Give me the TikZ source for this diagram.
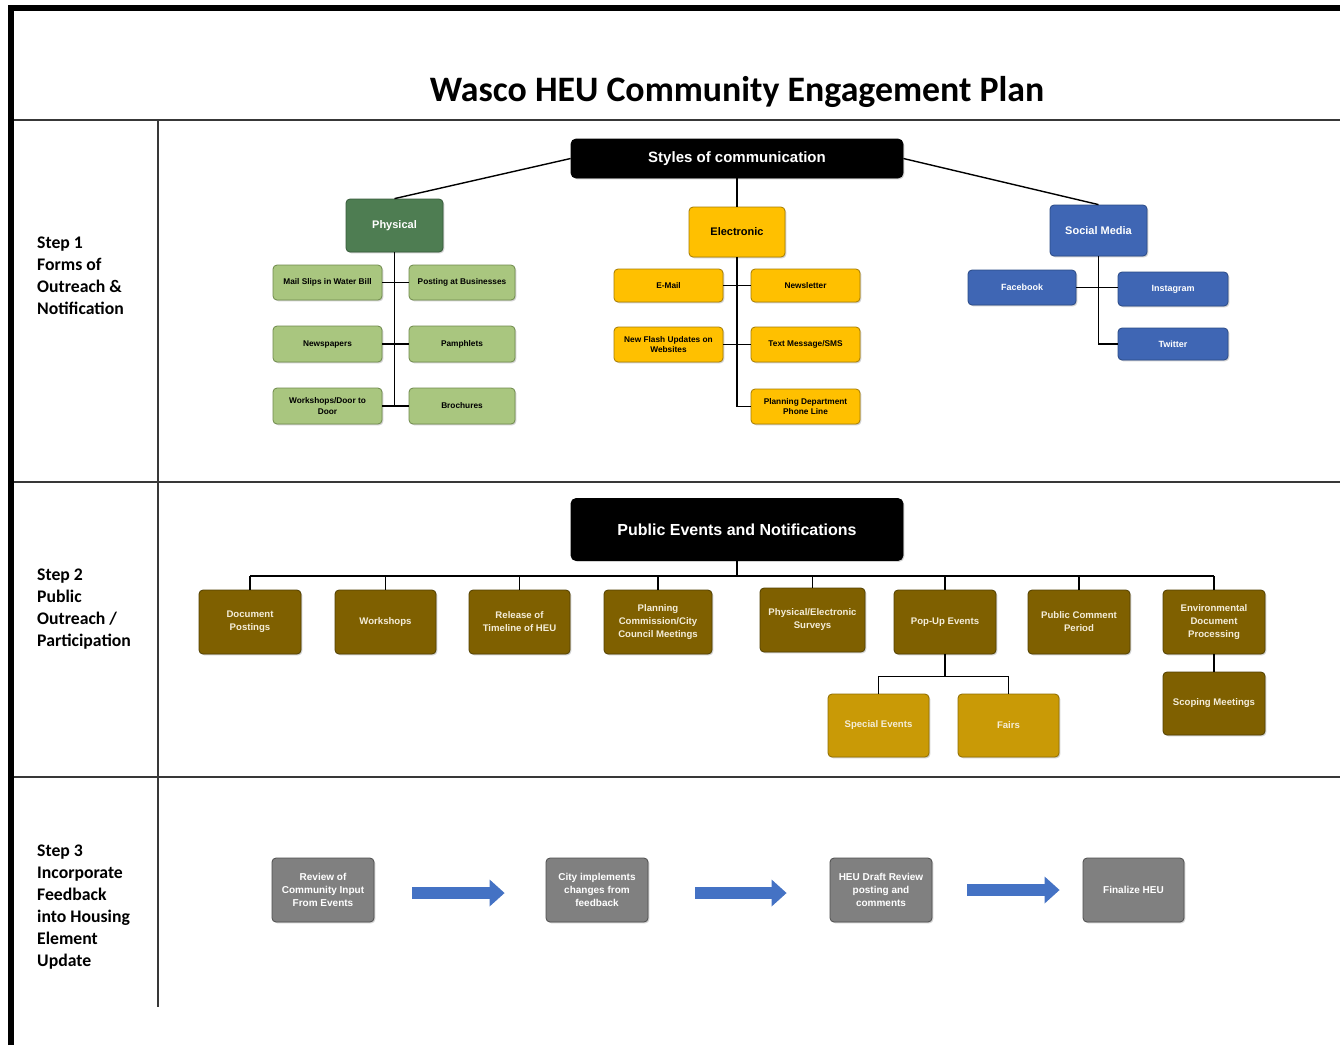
\documentclass[tikz,border=0pt]{standalone}
\usepackage{fontspec}
\setmainfont{Liberation Sans}
\newfontfamily\calib{Carlito}
\usetikzlibrary{arrows.meta,calc,shadows}

\definecolor{physgreen}{HTML}{4E7D52}
\definecolor{physedge}{HTML}{365A3A}
\definecolor{leafgreen}{HTML}{A9C67F}
\definecolor{leafgedge}{HTML}{6F8A4C}
\definecolor{elecyellow}{HTML}{FFC000}
\definecolor{elecedge}{HTML}{A67C00}
\definecolor{socblue}{HTML}{3F66B4}
\definecolor{socedge}{HTML}{2A4A86}
\definecolor{olive}{HTML}{7F6000}
\definecolor{oliveedge}{HTML}{524000}
\definecolor{gold}{HTML}{C99A06}
\definecolor{goldedge}{HTML}{8F6D00}
\definecolor{stepgray}{HTML}{808080}
\definecolor{grayedge}{HTML}{4F4F4F}
\definecolor{arrowblue}{HTML}{4472C4}
\definecolor{cream}{HTML}{F4EDD9}
\definecolor{rule}{HTML}{383838}

\tikzset{
  box/.style={rounded corners=4pt, align=center, inner sep=1pt, line width=0.8pt,
    drop shadow={shadow xshift=1.3pt, shadow yshift=-1.3pt, opacity=0.35}},
  hdr/.style={box, rounded corners=5pt, fill=black, draw=black, text=white,
    font=\bfseries\fontsize{15}{18}\selectfont},
  physbox/.style={box, fill=physgreen, draw=physedge, text=white,
    font=\bfseries\fontsize{11}{13}\selectfont},
  leafg/.style={box, fill=leafgreen, draw=leafgedge, text=black,
    font=\bfseries\fontsize{8.3}{10.5}\selectfont},
  elecbox/.style={box, fill=elecyellow, draw=elecedge, text=black,
    font=\bfseries\fontsize{11}{13}\selectfont},
  leafy/.style={box, fill=elecyellow, draw=elecedge, text=black,
    font=\bfseries\fontsize{8.3}{10.5}\selectfont},
  socbox/.style={box, fill=socblue, draw=socedge, text=white,
    font=\bfseries\fontsize{11}{13}\selectfont},
  leafb/.style={box, fill=socblue, draw=socedge, text=white,
    font=\bfseries\fontsize{9}{11}\selectfont},
  evbox/.style={box, fill=olive, draw=oliveedge, text=cream,
    minimum width=102, minimum height=64,
    font=\bfseries\fontsize{9.6}{13}\selectfont},
  subev/.style={evbox, fill=gold, draw=goldedge},
  graybox/.style={box, fill=stepgray, draw=grayedge, text=white,
    minimum width=102, minimum height=64,
    font=\bfseries\fontsize{10}{13}\selectfont},
  conn/.style={draw=black, line width=1.4pt},
  gridline/.style={draw=rule, line width=1.6pt},
  steplbl/.style={anchor=north west, align=left, inner sep=0pt, text=black,
    font=\calib\bfseries\fontsize{17.7}{22}\selectfont},
  blockarrow/.style={draw=arrowblue, line width=12pt,
    -{Triangle[width=26pt,length=15pt]}},
}

\begin{document}
\begin{tikzpicture}[x=1pt,y=-1pt]
\useasboundingbox (0,0) rectangle (1340,1045);
\fill[white] (0,0) rectangle (1340,1045);

% frame and table rules
\draw[line width=6pt, line join=miter] (11,1045) -- (11,8) -- (1340,8);
\draw[gridline] (14,120) -- (1340,120);
\draw[gridline] (14,482) -- (1340,482);
\draw[gridline] (14,777) -- (1340,777);
\draw[gridline] (158,120) -- (158,1007);

% title
\node[font=\calib\bfseries\fontsize{35.8}{40}\selectfont, inner sep=0pt] (title) at (737,92)
  {Wasco HEU Community Engagement Plan};

% step labels
\node[steplbl] (s1) at (37,237) {Step 1\\Forms of\\Outreach \&\\Notification};
\node[steplbl] (s2) at (37,569) {Step 2\\Public\\Outreach /\\Participation};
\node[steplbl] (s3) at (37,845) {Step 3\\Incorporate\\Feedback\\into Housing\\Element\\Update};

% ---------- Step 1: styles of communication ----------
\node[hdr, minimum width=332, minimum height=39] (styles) at (737,158.5) {Styles of communication};

\node[physbox, minimum width=97, minimum height=53] (phys) at (394.5,225.5) {Physical};
\node[leafg, minimum width=109, minimum height=35] (mail)  at (327.5,282.5) {Mail Slips in Water Bill};
\node[leafg, minimum width=106, minimum height=35] (post)  at (462,282.5) {Posting at Businesses};
\node[leafg, minimum width=109, minimum height=36] (news)  at (327.5,344) {Newspapers};
\node[leafg, minimum width=106, minimum height=36] (pamph) at (462,344) {Pamphlets};
\node[leafg, minimum width=109, minimum height=36] (work)  at (327.5,406) {Workshops/Door to\\Door};
\node[leafg, minimum width=106, minimum height=36] (broch) at (462,406) {Brochures};

\node[elecbox, minimum width=96, minimum height=50] (elec) at (737,232) {Electronic};
\node[leafy, minimum width=109, minimum height=33] (email) at (668.5,285.5) {E-Mail};
\node[leafy, minimum width=109, minimum height=33] (newsl) at (805.5,285.5) {Newsletter};
\node[leafy, minimum width=109, minimum height=35] (flash) at (668.5,344.5) {New Flash Updates on\\Websites};
\node[leafy, minimum width=109, minimum height=35] (sms)   at (805.5,344.5) {Text Message/SMS};
\node[leafy, minimum width=109, minimum height=35] (phone) at (805.5,406.5) {Planning Department\\Phone Line};

\node[socbox, minimum width=97, minimum height=51] (social) at (1098.5,230.5) {Social Media};
\node[leafb, minimum width=108, minimum height=35] (fb)    at (1022,287.5) {Facebook};
\node[leafb, minimum width=110, minimum height=34] (insta) at (1173,289) {Instagram};
\node[leafb, minimum width=110, minimum height=32] (tw)    at (1173,344) {Twitter};

\draw[conn] (styles.west) -- (phys.north);
\draw[conn] (styles.east) -- (social.north);
\draw[conn] (styles.south) -- (elec.north);

\draw[conn] (phys.south) -- (phys.south |- work.east);
\draw[conn] (mail.east) -- (post.west);
\draw[conn] (news.east) -- (pamph.west);
\draw[conn] (work.east) -- (broch.west);

\draw[conn] (elec.south) -- (elec.south |- phone.west) -- (phone.west);
\draw[conn] (email.east) -- (newsl.west);
\draw[conn] (flash.east) -- (sms.west);

\draw[conn] (social.south) -- (social.south |- tw.west) -- (tw.west);
\draw[conn] (fb.east) -- (fb.east -| insta.west);

% ---------- Step 2: public events ----------
\node[hdr, minimum width=332, minimum height=62, font=\bfseries\fontsize{16}{19}\selectfont] (pub) at (737,529.5)
  {Public Events and Notifications};

\node[evbox] (dp)   at (250,622)    {Document\\Postings};
\node[evbox, minimum width=101] (ws)   at (385.5,622)  {Workshops};
\node[evbox, minimum width=101] (rel)  at (519.5,622)  {Release of\\Timeline of HEU};
\node[evbox, minimum width=108] (pc)   at (658,622)    {Planning\\Commission/City\\Council Meetings};
\node[evbox, minimum width=105] (surv) at (812.5,620)  {Physical/Electronic\\Surveys};
\node[evbox] (pop)  at (945,622)    {Pop-Up Events};
\node[evbox] (pcp)  at (1079,622)   {Public Comment\\Period};
\node[evbox] (env)  at (1214,622)   {Environmental\\Document\\Processing};
\node[evbox, minimum height=63] (scope) at (1214,703.5) {Scoping Meetings};
\node[subev, minimum width=101, minimum height=63] (spec)  at (878.5,725.5) {Special Events};
\node[subev, minimum width=101, minimum height=63] (fairs) at (1008.5,725.5) {Fairs};

\coordinate (bus) at ($(pub.south)+(0,15)$);
\draw[conn] (pub.south) -- (bus);
\draw[conn] (dp.north |- bus) -- (env.north |- bus);
\foreach \n in {dp,ws,rel,pc,surv,pop,pcp,env}
  \draw[conn] (\n.north) -- (\n.north |- bus);

\coordinate (popbus) at ($(pop.south)+(0,22)$);
\draw[conn] (pop.south) -- (popbus);
\draw[conn] (spec.north) -- (spec.north |- popbus) -- (fairs.north |- popbus) -- (fairs.north);
\draw[conn] (env.south) -- (scope.north);

% ---------- Step 3: feedback flow ----------
\node[graybox] (rev)   at (323,890)    {Review of\\Community Input\\From Events};
\node[graybox] (city)  at (597,890)    {City implements\\changes from\\feedback};
\node[graybox] (draft) at (881,890)    {HEU Draft Review\\posting and\\comments};
\node[graybox, minimum width=101] (fin) at (1133.5,890) {Finalize HEU};

\draw[blockarrow] ($(rev.east)+(38,3)$)   -- ($(city.west)+(-41,3)$);
\draw[blockarrow] ($(city.east)+(47,3)$)  -- ($(draft.west)+(-43,3)$);
\draw[blockarrow] ($(draft.east)+(35,0)$) -- ($(fin.west)+(-23,0)$);
\end{tikzpicture}
\end{document}
